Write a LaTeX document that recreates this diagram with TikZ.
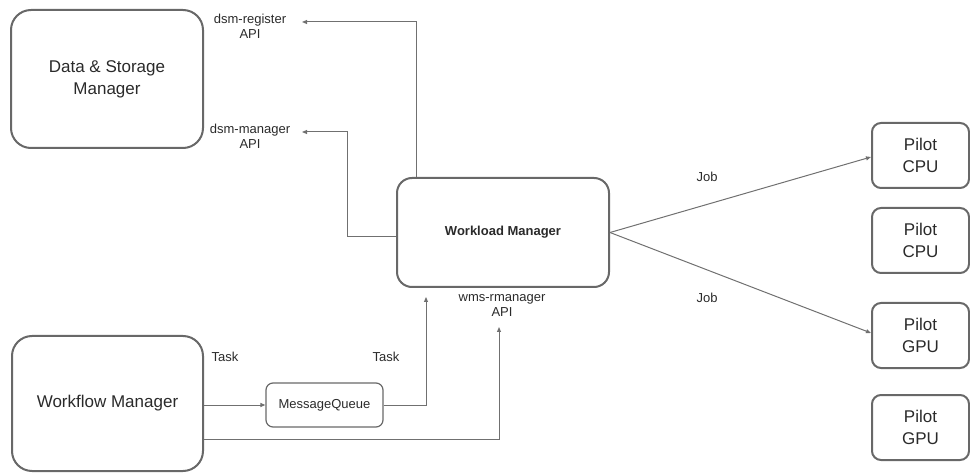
\documentclass[tikz,border=0pt]{standalone}
\usepackage{fontspec}
\setmainfont{Liberation Sans}
\usetikzlibrary{arrows.meta}
\definecolor{boxline}{HTML}{686868}
\definecolor{wireline}{HTML}{707070}
\definecolor{ink}{HTML}{2A2A2A}
\begin{document}
\begin{tikzpicture}[x=1pt,y=-1pt,
  bigbox/.style={draw=boxline,line width=2pt,rounded corners=20pt,inner sep=0pt,
    align=center,text=ink,font=\fontsize{17}{22}\selectfont},
  pilotbox/.style={draw=boxline,line width=2pt,rounded corners=9pt,inner sep=0pt,
    minimum width=97pt,minimum height=65pt,align=center,text=ink,
    font=\fontsize{17}{22}\selectfont},
  smallbox/.style={draw=boxline,line width=1.2pt,rounded corners=7pt,inner sep=0pt,
    align=center,text=ink,font=\fontsize{13}{15}\selectfont},
  lbl/.style={inner sep=0pt,align=center,text=ink,font=\fontsize{13}{15}\selectfont},
  arr/.style={draw=wireline,line width=1pt,-{Triangle[length=5pt,width=4pt]}}]
\useasboundingbox (0,0) rectangle (970,473);

% main components
\node[bigbox,minimum width=192pt,minimum height=138pt] (dsm) at (107,79)
  {Data \& Storage\\Manager};
\node[bigbox,rounded corners=15pt,minimum width=212pt,minimum height=109pt,
  font=\fontsize{13}{15}\selectfont\bfseries] (wm) at (503,232.5) {Workload Manager};
\node[bigbox,minimum width=191pt,minimum height=135pt] (wf) at (107.5,403.5)
  {Workflow Manager};
\node[smallbox,minimum width=117pt,minimum height=44pt] (mq) at (324.5,405)
  {MessageQueue};

% pilots
\node[pilotbox] (p1) at (920.5,155.5) {Pilot\\CPU};
\node[pilotbox] (p2) at (920.5,240.5) {Pilot\\CPU};
\node[pilotbox] (p3) at (920.5,335.5) {Pilot\\GPU};
\node[pilotbox] (p4) at (920.5,427.5) {Pilot\\GPU};

% API and flow labels
\node[lbl] (dsmreg) at (250,26) {dsm-register\\API};
\node[lbl] (dsmmgr) at (250,136.5) {dsm-manager\\API};
\node[lbl] (wmsapi) at (502,305.5) {wms-rmanager\\API};
\node[lbl] (task1) at (225,357) {Task};
\node[lbl] (task2) at (386,357) {Task};
\node[lbl] (job1) at (707,177) {Job};
\node[lbl] (job2) at (707,298) {Job};

% arrow end points beside the labels
\coordinate (regtip) at (302,22);
\coordinate (mgrtip) at (302,132);
\coordinate (mqtip) at (426,297);
\coordinate (apitip) at (499,327);

% connectors
\draw[arr] ([xshift=-87pt]wm.north) |- (regtip);
\draw[arr] ([yshift=-4.5pt]wm.west) -- ++(-49,0) |- (mgrtip);
\draw[arr] (wf.east |- mq.west) -- (mq.west);
\draw[arr] (mq.east) -| (mqtip);
\draw[arr] ([yshift=-35.5pt]wf.east) -| (apitip);
\draw[arr] (wm.east) -- ([yshift=-1.5pt]p1.west);
\draw[arr] (wm.east) -- ([yshift=2.5pt]p3.west);
\end{tikzpicture}
\end{document}
